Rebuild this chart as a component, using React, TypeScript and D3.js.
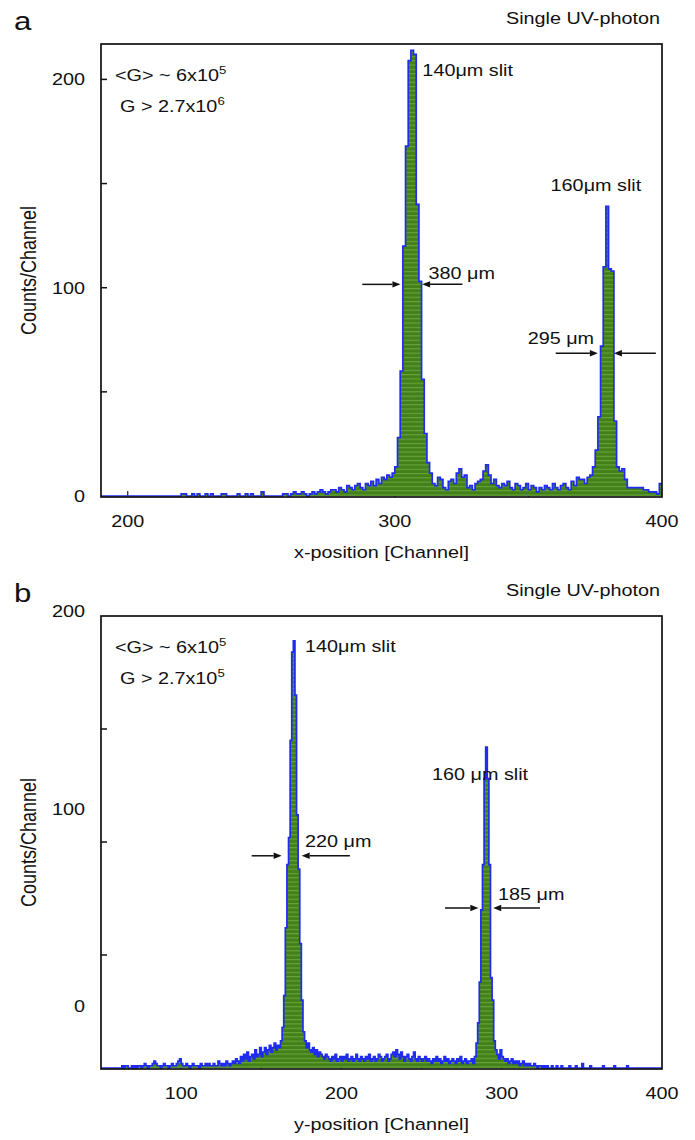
import React from "react";
import * as d3 from "d3";

// ---- panel a: x-position, counts per channel starting at aStart ----
const aStart = 190;
const aCounts = [
  0, 0, 0, 0, 0, 0, 0, 0, 0, 0,
  0, 0, 0, 0, 0, 0, 0, 0, 0, 0,
  0, 0, 0, 0, 0, 0, 0, 0, 0, 0,
  1, 1, 0, 0, 1, 0, 1, 0, 0, 1,
  0, 1, 0, 0, 0, 1, 1, 0, 0, 0,
  0, 1, 0, 0, 1, 0, 1, 0, 0, 0,
  2, 0, 0, 0, 0, 0, 0, 0, 1, 1,
  0, 1, 2, 1, 1, 2, 1, 0, 1, 2,
  1, 2, 3, 2, 1, 2, 3, 3, 2, 4,
  3, 2, 5, 4, 3, 5, 6, 4, 3, 6,
  5, 7, 5, 8, 6, 9, 8, 10, 9, 11,
  14, 28, 60, 120, 168, 209, 214, 212, 140, 103,
  56, 30, 16, 11, 6, 5, 9, 8, 4, 3,
  7, 8, 6, 11, 13, 9, 10, 4, 5, 3,
  6, 7, 8, 12, 15, 10, 6, 8, 5, 4,
  6, 5, 7, 4, 3, 6, 5, 3, 4, 6,
  3, 5, 4, 2, 4, 3, 5, 4, 3, 6,
  4, 3, 5, 6, 4, 3, 7, 5, 9, 8,
  8, 6, 9, 10, 14, 22, 38, 72, 110, 139,
  109, 108, 36, 14, 12, 13, 8, 4, 4, 4,
  4, 4, 4, 3, 3, 2, 2, 2, 1, 6,
];
const aXDomain = [190, 400];
const aYDomain = [0, 217];
const aXLabels = [200, 300, 400];
const aXTicks = [200, 250, 300, 350];
const aYLabels = [0, 100, 200];
const aYTicks = [50, 100, 150, 200];
const aSlits = [
  { ch: 310.3, v: 201.7, text: "140μm slit" },
  { ch: 358.3, v: 146.6, text: "160μm slit" },
];
const aWidths = [
  { text: "380 μm", tx: 312.6, tv: 104, v: 101.6, l0: 287.8, l1: 302.1, r0: 310.2, r1: 325.3 },
  { text: "295 μm", tx: 349.7, tv: 72.8, v: 68.5, l0: 360.2, l1: 376, r0: 382, r1: 397.7 },
];

// ---- panel b: y-position ----
const bStart = 50;
const bCounts = [
  0, 0, 0, 0, 0, 0, 0, 0, 0, 0,
  0, 0, 0, 1, 0, 1, 1, 0, 0, 1,
  0, 1, 0, 1, 1, 0, 1, 2, 1, 0,
  1, 1, 2, 3, 2, 1, 1, 0, 1, 2,
  1, 1, 0, 1, 2, 1, 1, 2, 3, 4,
  2, 1, 1, 2, 1, 0, 1, 2, 1, 1,
  1, 0, 2, 1, 1, 2, 1, 2, 1, 1,
  2, 1, 1, 3, 2, 1, 2, 1, 3, 2,
  1, 2, 3, 2, 4, 3, 2, 5, 3, 6,
  4, 7, 3, 5, 6, 4, 8, 5, 6, 9,
  5, 7, 9, 6, 8, 10, 7, 9, 11, 8,
  10, 9, 12, 18, 32, 62, 90, 102, 145, 184,
  189, 165, 112, 88, 55, 30, 16, 12, 9, 11,
  8, 7, 9, 6, 8, 5, 7, 6, 5, 4,
  6, 5, 4, 3, 5, 4, 6, 3, 4, 5,
  3, 5, 4, 6, 3, 4, 5, 3, 4, 6,
  4, 3, 5, 4, 3, 5, 4, 6, 3, 4,
  5, 3, 4, 6, 5, 3, 4, 5, 6, 3,
  4, 6, 7, 5, 8, 6, 4, 7, 5, 3,
  5, 6, 4, 3, 5, 7, 4, 3, 5, 4,
  3, 4, 5, 3, 4, 3, 2, 4, 3, 5,
  3, 4, 2, 3, 5, 3, 4, 2, 3, 4,
  3, 2, 4, 3, 5, 2, 3, 4, 2, 3,
  3, 4, 2, 5, 11, 20, 38, 70, 90, 128,
  142, 128, 90, 40, 30, 12, 8, 6, 4, 8,
  5, 4, 3, 4, 2, 3, 4, 2, 3, 2,
  3, 1, 2, 3, 1, 2, 1, 2, 1, 1,
  2, 1, 0, 1, 1, 0, 1, 0, 1, 0,
  0, 1, 0, 0, 1, 0, 0, 1, 0, 0,
  0, 0, 1, 0, 0, 0, 1, 0, 0, 0,
  2, 0, 0, 0, 0, 1, 0, 0, 0, 0,
  0, 0, 0, 1, 0, 0, 0, 0, 0, 0,
  1, 0, 0, 0, 0, 0, 0, 0, 1, 0,
  0, 0, 0, 0, 0, 0, 0, 0, 0, 0,
  0, 0, 0, 0, 0, 0, 0, 0, 0, 0,
];
const bXDomain = [50, 400];
const bYDomain = [0, 200];
const bXLabels = [100, 200, 300, 400];
const bXTicks = [100, 150, 200, 250, 300, 350];
const bYLabels = [0, 100, 200];
const bYTicks = [50, 100, 150];
const bSlits = [
  { ch: 177.3, v: 184.2, text: "140μm slit" },
  { ch: 256.5, v: 127.4, text: "160 μm slit" },
];
const bWidths = [
  { text: "220 μm", tx: 177.3, tv: 97.9, v: 93.9, l0: 144, l1: 162.7, r0: 175.2, r1: 205.3 },
  { text: "185 μm", tx: 297.7, tv: 74.3, v: 70.8, l0: 264.6, l1: 285.4, r0: 294.7, r1: 323.9 },
];

const W = 695;
const H = 1140;
const LEFT = 101;
const RIGHT = 662;
const PH = 453;
const FONT = "'Liberation Sans', Arial, Helvetica, sans-serif";
const SX = 1.2; // the original figure is stretched horizontally

function T({ x, y, anchor = "start", size = 16.5, rotate = 0, children }: any) {
  const rot = rotate ? ` rotate(${rotate})` : "";
  return (
    <text
      transform={`translate(${x},${y}) scale(${SX},1)${rot}`}
      textAnchor={anchor}
      fontSize={size}
      fontFamily={FONT}
      fill="#111"
    >
      {children}
    </text>
  );
}

function Arrow({ x0, x1, y }: { x0: number; x1: number; y: number }) {
  const dir = x1 > x0 ? 1 : -1;
  const hl = 8;
  return (
    <g>
      <line x1={x0} x2={x1 - dir * hl} y1={y} y2={y} stroke="#111" strokeWidth={1.5} />
      <path d={`M${x1},${y} L${x1 - dir * hl},${y - 3.2} L${x1 - dir * hl},${y + 3.2} Z`} fill="#111" />
    </g>
  );
}

function Panel(props: any) {
  const { top, letter, start, counts, xDomain, yDomain, xLabels, xTicks, yLabels, yTicks,
    yLabelRange, xTitle, gain, slits, widths, id } = props;
  const bottom = top + PH;
  const x = d3.scaleLinear().domain(xDomain).range([LEFT, RIGHT]);
  const y = d3.scaleLinear().domain(yDomain).range([bottom - 1, top]);
  const yLab = yLabelRange ? d3.scaleLinear().domain([0, 200]).range(yLabelRange) : y;

  const pts = counts.map((v: number, i: number) => ({ ch: start + i, v }));
  pts.push({ ch: start + counts.length, v: counts[counts.length - 1] });
  const area = d3.area<any>().curve(d3.curveStepAfter).x((d) => x(d.ch)).y0(y(0)).y1((d) => y(d.v));
  const line = d3.line<any>().curve(d3.curveStepAfter).x((d) => x(d.ch)).y((d) => y(d.v));

  return (
    <g>
      <defs>
        <pattern id={`st-${id}`} width={6} height={4.3} patternUnits="userSpaceOnUse">
          <rect width={6} height={4.3} fill="#438019" />
          <rect width={6} height={1.1} fill="#69a43b" />
        </pattern>
        <clipPath id={`clip-${id}`}>
          <rect x={LEFT} y={top} width={RIGHT - LEFT} height={PH} />
        </clipPath>
      </defs>

      {xTicks.map((t: number) => (
        <line key={`xt${t}`} x1={x(t)} x2={x(t)} y1={bottom} y2={bottom - 6} stroke="#333" strokeWidth={1.3} />
      ))}
      {yTicks.map((t: number) => (
        <line key={`yt${t}`} x1={LEFT} x2={LEFT + 6} y1={y(t)} y2={y(t)} stroke="#111" strokeWidth={1.5} />
      ))}

      <g clipPath={`url(#clip-${id})`}>
        <path d={area(pts) || ""} fill={`url(#st-${id})`} />
        <path d={line(pts) || ""} fill="none" stroke="#1f2cf0" strokeWidth={1.7} />
      </g>

      <rect x={LEFT} y={top} width={RIGHT - LEFT} height={PH} fill="none" stroke="#111" strokeWidth={1.7} />

      {xLabels.map((t: number) => (
        <T key={`xl${t}`} x={x(t)} y={bottom + 30} anchor="middle">{t}</T>
      ))}
      {yLabels.map((t: number) => (
        <T key={`yl${t}`} x={LEFT - 16} y={yLab(t) + 6} anchor="end">{t}</T>
      ))}

      <T x={(LEFT + RIGHT) / 2} y={bottom + 61} anchor="middle">{xTitle}</T>
      <T x={36} y={top + PH / 2} anchor="middle" size={18} rotate={-90}>Counts/Channel</T>
      <T x={14} y={top - 14} size={26}>{letter}</T>
      <T x={RIGHT - 2} y={top - 20} anchor="end">Single UV-photon</T>

      <T x={LEFT + 14} y={top + 37}>
        {"<G> ~ 6x10"}
        <tspan dy={-7} fontSize={11}>5</tspan>
      </T>
      <T x={LEFT + 19} y={top + 68}>
        {"G > 2.7x10"}
        <tspan dy={-7} fontSize={11}>{gain}</tspan>
      </T>

      {slits.map((s: any) => (
        <T key={s.text} x={x(s.ch)} y={y(s.v)}>{s.text}</T>
      ))}
      {widths.map((w: any) => (
        <g key={w.text}>
          <Arrow x0={x(w.l0)} x1={x(w.l1)} y={y(w.v)} />
          <Arrow x0={x(w.r1)} x1={x(w.r0)} y={y(w.v)} />
          <T x={x(w.tx)} y={y(w.tv)}>{w.text}</T>
        </g>
      ))}
    </g>
  );
}

export default function App() {
  return (
    <svg width={W} height={H} style={{ position: "absolute", left: 0, top: 0, background: "#fff" }}>
      <rect width={W} height={H} fill="#fff" />
      <Panel
        id="a"
        top={44}
        letter="a"
        start={aStart}
        counts={aCounts}
        xDomain={aXDomain}
        yDomain={aYDomain}
        xLabels={aXLabels}
        xTicks={aXTicks}
        yLabels={aYLabels}
        yTicks={aYTicks}
        xTitle="x-position [Channel]"
        gain="6"
        slits={aSlits}
        widths={aWidths}
      />
      <Panel
        id="b"
        top={616}
        letter="b"
        start={bStart}
        counts={bCounts}
        xDomain={bXDomain}
        yDomain={bYDomain}
        xLabels={bXLabels}
        xTicks={bXTicks}
        yLabels={bYLabels}
        yTicks={bYTicks}
        yLabelRange={[1006, 611]}
        xTitle="y-position [Channel]"
        gain="5"
        slits={bSlits}
        widths={bWidths}
      />
    </svg>
  );
}
